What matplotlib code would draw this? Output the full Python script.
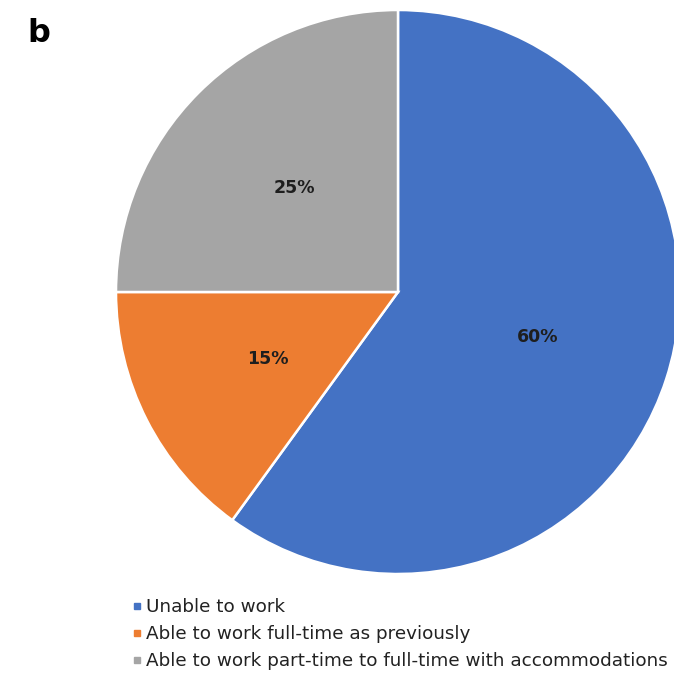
import matplotlib
matplotlib.use("Agg")
import matplotlib.pyplot as plt
from matplotlib.lines import Line2D

categories = [
    "Unable to work",
    "Able to work full-time as previously",
    "Able to work part-time to full-time with accommodations",
]
shares = [60, 15, 25]
colors = ["#4472C4", "#ED7D31", "#A5A5A5"]

plt.rcParams["font.family"] = ["DejaVu Sans"]

W, H = 674, 694
fig = plt.figure(figsize=(W / 100, H / 100), dpi=100)

# pie axes: centre (398, 292) px from top-left, radius 282 px
cx, cy, r = 398, 292, 282
ax = fig.add_axes([(cx - r) / W, (H - cy - r) / H, 2 * r / W, 2 * r / H])
wedges, texts, autotexts = ax.pie(
    shares,
    colors=colors,
    startangle=90,
    counterclock=False,
    radius=1.0,
    autopct=lambda p: f"{p:.0f}%",
    pctdistance=0.52,
    wedgeprops=dict(edgecolor="white", linewidth=1.8),
    textprops=dict(fontsize=12.5, fontweight="bold", color="#1e1e1e"),
)
ax.set_xlim(-1, 1)
ax.set_ylim(-1, 1)
ax.set_aspect("equal")
ax.axis("off")
for w in wedges:
    w.set_clip_on(False)

fig.text(27 / W, 1 - 34 / H, "b", fontsize=23, fontweight="bold",
         ha="left", va="center", color="black")

handles = [Line2D([0], [0], marker="s", linestyle="none", markersize=5,
                  markerfacecolor=c, markeredgecolor=c) for c in colors]
fig.legend(handles, categories, loc="upper left",
           bbox_to_anchor=(125 / W, 1 - 591 / H), frameon=False,
           fontsize=13.2, labelcolor="#222222", handlelength=0.5,
           handletextpad=0.25, labelspacing=0.48, borderaxespad=0)

fig.savefig("out.png", dpi=100, facecolor="white")
